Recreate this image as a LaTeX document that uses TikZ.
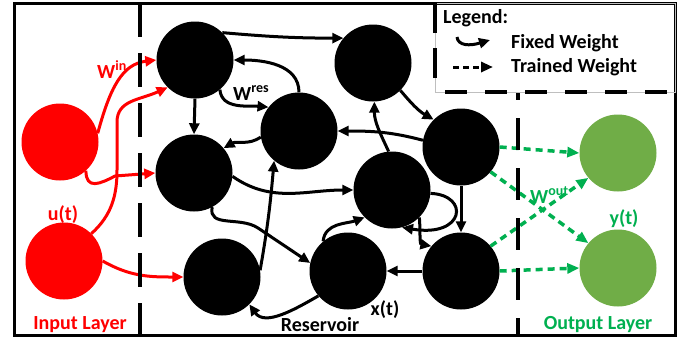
\documentclass[tikz,border=0pt]{standalone}
\usepackage{fontspec}
\setmainfont{Carlito}
\usetikzlibrary{arrows.meta}
\definecolor{inred}{RGB}{255,0,0}
\definecolor{outgreen}{RGB}{0,176,80}
\definecolor{nodegreen}{RGB}{112,173,71}
\begin{document}
\begin{tikzpicture}[x=1pt,y=-1pt,
  neuron/.style={circle, minimum size=77pt, inner sep=0pt, fill=black},
  inneuron/.style={neuron, fill=inred},
  outneuron/.style={neuron, fill=nodegreen},
  fixedw/.style={line width=3pt, -{Triangle[length=11pt,width=10pt]}},
  inw/.style={fixedw, color=inred},
  trainw/.style={line width=3.5pt, color=outgreen, dash pattern=on 7pt off 5pt, -{Triangle[length=12pt,width=10pt]}},
  lbl/.style={font=\fontsize{20}{24}\selectfont\bfseries, inner sep=0pt},
  divider/.style={line width=4pt}
]
\path[use as bounding box, fill=white] (0,0) rectangle (686,341);

% nodes
\node[neuron] (A) at (195,60) {};
\node[neuron] (B) at (373,63) {};
\node[neuron] (C) at (299,131) {};
\node[neuron] (D) at (194,173) {};
\node[neuron] (E) at (461,147) {};
\node[neuron] (F) at (392,190) {};
\node[neuron] (G) at (222,277) {};
\node[neuron] (H) at (348,271) {};
\node[neuron] (I) at (461,271) {};
\node[inneuron] (U1) at (60,142) {};
\node[inneuron] (U2) at (64,261) {};
\node[outneuron] (Y1) at (618,153) {};
\node[outneuron] (Y2) at (618,268) {};

% input weights
\draw[inw] (U1.13) .. controls (110,88) and (122,64) .. (A.180);
\draw[inw] (U2.45) .. controls (112,215) and (117,195) .. (117,170) -- (117,122) .. controls (117,100) and (140,100) .. (A.-135);
\draw[inw] (U1.-48) .. controls (86,190) and (100,184) .. (115,176) -- (D.180);
\draw[inw] (U2.0) to[out=-30,in=180] (G.180);

% reservoir weights
\draw[fixedw] (A.45) to[out=-5,in=180] (B.140);
\draw[fixedw] (C.90) to[out=90,in=0] (A.0);
\draw[fixedw] (A.-50) to[out=-85,in=175] (C.142);
\draw[fixedw] (A.-90) -- (D.90);
\draw[fixedw] (C.189) to[out=215,in=30] (D.40);
\draw[fixedw] (D.-5) to[out=-35,in=180] (F.180);
\draw[fixedw] (E.170) to[out=165,in=0] (C.0);
\draw[fixedw] (F.95) to[out=115,in=-90] (B.-88);
\draw[fixedw] (B.-45) to[out=-50,in=150] (E.135);
\draw[fixedw] (E.-90) -- (I.90);
\draw[fixedw] (F.-5) .. controls (470,195) and (465,238) .. (F.-75);
\draw[fixedw] (F.-45) to[out=-85,in=170] (I.140);
\draw[fixedw] (I.180) -- (H.0);
\draw[fixedw] (H.130) to[out=85,in=200] (F.-135);
\draw[fixedw] (H.-140) to[out=210,in=-55] (G.-45);
\draw[fixedw] (G.10) to[out=80,in=-95] (C.-130);
\draw[fixedw] (D.-62) .. controls (208,228) and (240,216) .. (258,228) -- (H.168);

% trained weights
\draw[trainw] (E.0) -- (Y1.180);
\draw[trainw] (E.-40) -- (Y2.140);
\draw[trainw] (I.40) -- (Y1.-140);
\draw[trainw] (I.0) -- (Y2.180);

% frame and dividers
\draw[line width=3pt] (14,3) rectangle (675,335);
\draw[gray!50, line width=0.6pt] (435,3) rectangle (675,92);
\draw[divider, dash pattern=on 30pt off 15pt] (435,3) -- (435,92);
\draw[divider, dash pattern=on 22pt off 18pt, dash phase=30pt] (435,92) -- (675,92);
\draw[divider, dash pattern=on 34pt off 16pt] (140,3) -- (140,335);
\draw[divider, dash pattern=on 32pt off 18pt, dash phase=25pt] (518,93) -- (518,335);

% legend
\node[lbl, anchor=west] (lg) at (443,18) {Legend:};
\node[lbl, anchor=west] (lf) at (511,43) {Fixed Weight};
\node[lbl, anchor=west] (lt) at (511,67) {Trained Weight};
\coordinate (fs) at (457,37);
\coordinate (fe) at (490,40);
\coordinate (ts) at (453,67);
\coordinate (te) at (493,67);
\draw[fixedw] (fs) .. controls (458,46) and (470,46) .. (fe);
\draw[line width=3pt, dash pattern=on 6pt off 4pt, -{Triangle[length=12pt,width=10pt]}] (ts) -- (te);

% labels
\node[lbl, text=inred, anchor=base west] (win) at (97,78) {W\textsuperscript{in}};
\node[lbl, anchor=base west] (wres) at (233,100) {W\textsuperscript{res}};
\node[lbl, text=outgreen, anchor=base west] (wout) at (530,203) {W\textsuperscript{out}};
\node[lbl, text=inred] (ut) at (63,215) {u(t)};
\node[lbl, text=inred] (inl) at (80,325) {Input Layer};
\node[lbl] (res) at (320,325) {Reservoir};
\node[lbl] (xt) at (385,310) {x(t)};
\node[lbl, text=outgreen] (outl) at (598,325) {Output Layer};
\node[lbl, text=outgreen] (yt) at (624,219) {y(t)};
\end{tikzpicture}
\end{document}
